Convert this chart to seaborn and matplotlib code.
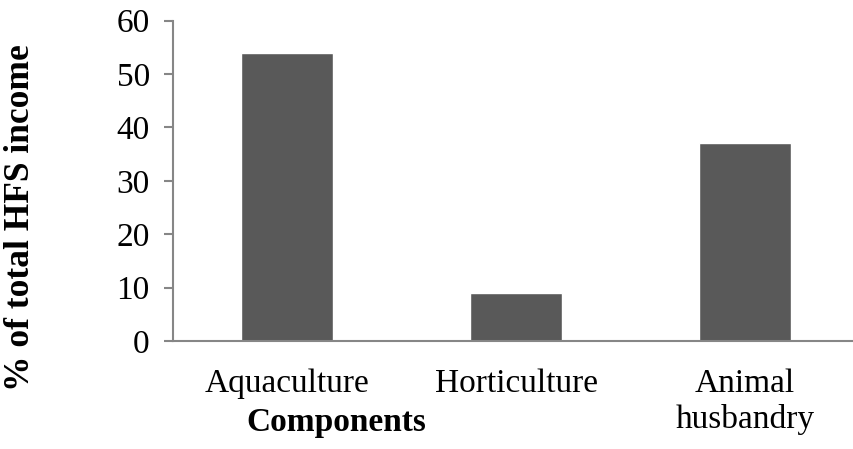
import pandas as pd
import matplotlib.pyplot as plt
import seaborn as sns

# values
components = ["Aquaculture", "Horticulture", "Animal\nhusbandry"]
income_share = [54, 9, 37]
y_ticks = [0, 10, 20, 30, 40, 50, 60]

df = pd.DataFrame({"component": components, "share": income_share})

sns.set_style("white")
plt.rcParams['font.family'] = ['Liberation Serif', 'DejaVu Serif']
plt.rcParams['text.color'] = 'black'
plt.rcParams['xtick.color'] = 'black'
plt.rcParams['ytick.color'] = 'black'

axis_grey = "#868686"

fig = plt.figure(figsize=(8.54, 4.49), dpi=100)
ax = fig.add_axes([0.2022, 0.2405, 0.8044, 0.7136])

sns.barplot(data=df, x="component", y="share", color="#595959",
            width=0.4, saturation=1, ax=ax)

ax.set_xlim(-0.5, 2.5)
ax.set_ylim(0, 60)
ax.set_yticks(y_ticks)

# category separators as tick marks, like the spreadsheet original
ax.set_xticks([-0.5, 0.5, 1.5, 2.5], minor=True)
ax.tick_params(axis="x", which="major", length=0, pad=20, labelsize=24, labelcolor="black")
ax.tick_params(axis="x", which="minor", length=7, width=1.5, color=axis_grey, direction="out")
ax.tick_params(axis="y", length=6.5, width=1.5, color=axis_grey, direction="out",
               pad=10, labelsize=24, labelcolor="black", left=True)
for lbl in ax.get_xticklabels():
    lbl.set_linespacing(1.2)
    lbl.set_verticalalignment("top")

sns.despine(ax=ax)
for side in ["left", "bottom"]:
    ax.spines[side].set_color(axis_grey)
    ax.spines[side].set_linewidth(1.5)

ax.set_xlabel("")
ax.set_ylabel("")
fig.text(0.024, 0.515, "% of total HFS income", rotation=90, ha="center", va="center",
         fontsize=25.5, fontweight="bold", color="black")
fig.text(0.394, 0.058, "Components", ha="center", va="center",
         fontsize=24, fontweight="bold", color="black")

fig.savefig("out.png", dpi=100)
